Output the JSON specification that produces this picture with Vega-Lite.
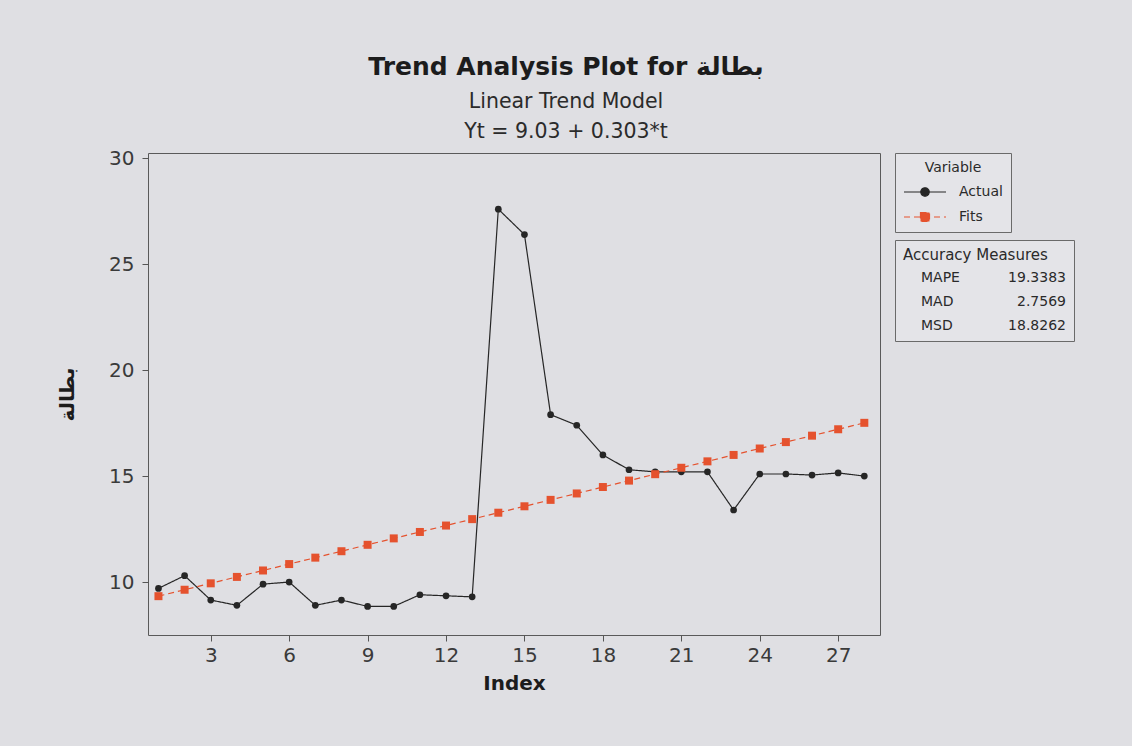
{
  "$schema": "https://vega.github.io/schema/vega-lite/v6.json",
  "width": 1132,
  "height": 746,
  "autosize": {"type": "fit", "contains": "padding"},
  "padding": {"left": 57, "top": 57, "right": 57, "bottom": 53},
  "background": "#dfdfe3",
  "title": {
    "text": "Trend Analysis Plot for بطالة",
    "subtitle": ["Linear Trend Model", "Yt = 9.03 + 0.303*t"],
    "anchor": "middle",
    "frame": "bounds",
    "font": "DejaVu Sans",
    "fontSize": 25,
    "fontWeight": "bold",
    "color": "#1c1c1c",
    "subtitleFont": "DejaVu Sans",
    "subtitleFontSize": 20.5,
    "subtitleColor": "#2b2b2b",
    "subtitleLineHeight": 30,
    "subtitlePadding": 12,
    "offset": 6
  },
  "datasets": {
    "trend": [
      {"index": 1, "series": "Actual", "value": 9.7},
      {"index": 2, "series": "Actual", "value": 10.3},
      {"index": 3, "series": "Actual", "value": 9.15},
      {"index": 4, "series": "Actual", "value": 8.9},
      {"index": 5, "series": "Actual", "value": 9.9},
      {"index": 6, "series": "Actual", "value": 10.0},
      {"index": 7, "series": "Actual", "value": 8.9},
      {"index": 8, "series": "Actual", "value": 9.15},
      {"index": 9, "series": "Actual", "value": 8.85},
      {"index": 10, "series": "Actual", "value": 8.85},
      {"index": 11, "series": "Actual", "value": 9.4},
      {"index": 12, "series": "Actual", "value": 9.35},
      {"index": 13, "series": "Actual", "value": 9.3},
      {"index": 14, "series": "Actual", "value": 27.6},
      {"index": 15, "series": "Actual", "value": 26.4},
      {"index": 16, "series": "Actual", "value": 17.9},
      {"index": 17, "series": "Actual", "value": 17.4},
      {"index": 18, "series": "Actual", "value": 16.0},
      {"index": 19, "series": "Actual", "value": 15.3},
      {"index": 20, "series": "Actual", "value": 15.2},
      {"index": 21, "series": "Actual", "value": 15.2},
      {"index": 22, "series": "Actual", "value": 15.2},
      {"index": 23, "series": "Actual", "value": 13.4},
      {"index": 24, "series": "Actual", "value": 15.1},
      {"index": 25, "series": "Actual", "value": 15.1},
      {"index": 26, "series": "Actual", "value": 15.05},
      {"index": 27, "series": "Actual", "value": 15.15},
      {"index": 28, "series": "Actual", "value": 15.0},
      {"index": 1, "series": "Fits", "value": 9.333},
      {"index": 2, "series": "Fits", "value": 9.636},
      {"index": 3, "series": "Fits", "value": 9.939},
      {"index": 4, "series": "Fits", "value": 10.242},
      {"index": 5, "series": "Fits", "value": 10.545},
      {"index": 6, "series": "Fits", "value": 10.848},
      {"index": 7, "series": "Fits", "value": 11.151},
      {"index": 8, "series": "Fits", "value": 11.454},
      {"index": 9, "series": "Fits", "value": 11.757},
      {"index": 10, "series": "Fits", "value": 12.06},
      {"index": 11, "series": "Fits", "value": 12.363},
      {"index": 12, "series": "Fits", "value": 12.666},
      {"index": 13, "series": "Fits", "value": 12.969},
      {"index": 14, "series": "Fits", "value": 13.272},
      {"index": 15, "series": "Fits", "value": 13.575},
      {"index": 16, "series": "Fits", "value": 13.878},
      {"index": 17, "series": "Fits", "value": 14.181},
      {"index": 18, "series": "Fits", "value": 14.484},
      {"index": 19, "series": "Fits", "value": 14.787},
      {"index": 20, "series": "Fits", "value": 15.09},
      {"index": 21, "series": "Fits", "value": 15.393},
      {"index": 22, "series": "Fits", "value": 15.696},
      {"index": 23, "series": "Fits", "value": 15.999},
      {"index": 24, "series": "Fits", "value": 16.302},
      {"index": 25, "series": "Fits", "value": 16.605},
      {"index": 26, "series": "Fits", "value": 16.908},
      {"index": 27, "series": "Fits", "value": 17.211},
      {"index": 28, "series": "Fits", "value": 17.514}
    ],
    "accuracy": [
      {"item": "MAPE"},
      {"item": "19.3383"},
      {"item": "MAD"},
      {"item": "2.7569"},
      {"item": "MSD"},
      {"item": "18.8262"}
    ]
  },
  "layer": [
    {
      "data": {"name": "trend"},
      "encoding": {
        "x": {
          "field": "index",
          "type": "quantitative",
          "scale": {"domain": [0.6, 28.6], "nice": false, "zero": false},
          "axis": {"values": [3, 6, 9, 12, 15, 18, 21, 24, 27], "title": "Index", "labelPadding": 4, "titlePadding": 8}
        },
        "y": {
          "field": "value",
          "type": "quantitative",
          "scale": {"domain": [7.5, 30.25], "nice": false, "zero": false},
          "axis": {"values": [10, 15, 20, 25, 30], "title": "بطالة", "labelPadding": 8, "titlePadding": 31}
        },
        "color": {
          "field": "series",
          "type": "nominal",
          "scale": {"domain": ["Actual", "Fits"], "range": ["#262626", "#e5522e"]},
          "legend": {
            "title": "Variable",
            "titleAnchor": "middle",
            "titlePadding": 6,
            "symbolSize": 400,
            "labelOffset": 34,
            "rowPadding": 7,
            "encoding": {
              "symbols": {
                "shape": {
                  "condition": {"test": "datum.value === 'Actual'", "value": "M-1,0H3.2M0.68,0A0.42,0.42 0 1,1 1.52,0A0.42,0.42 0 1,1 0.68,0Z"},
                  "value": "M-1,0H3.2M0.65,-0.45H1.55V0.45H0.65Z"
                },
                "stroke": {
                  "condition": {"test": "datum.value === 'Actual'", "value": "#3a3a3a"},
                  "value": "#e5522e"
                },
                "fill": {
                  "condition": {"test": "datum.value === 'Actual'", "value": "#1a1a1a"},
                  "value": "#e5522e"
                },
                "strokeDash": {
                  "condition": {"test": "datum.value === 'Actual'", "value": [1, 0]},
                  "value": [5, 3]
                },
                "strokeWidth": {"value": 1.2},
                "opacity": {"value": 1}
              }
            }
          }
        }
      },
      "layer": [
        {
          "mark": {"type": "line", "strokeWidth": 1.2},
          "encoding": {
            "strokeDash": {
              "field": "series",
              "type": "nominal",
              "scale": {"domain": ["Actual", "Fits"], "range": [[1, 0], [6, 4]]},
              "legend": null
            }
          }
        },
        {
          "transform": [{"filter": "datum.series === 'Actual'"}],
          "mark": {"type": "point", "shape": "circle", "filled": true, "size": 45, "opacity": 1}
        },
        {
          "transform": [{"filter": "datum.series === 'Fits'"}],
          "mark": {"type": "point", "shape": "square", "filled": true, "size": 64, "opacity": 1}
        }
      ]
    },
    {
      "data": {"name": "accuracy"},
      "mark": {"type": "point", "filled": true, "strokeWidth": 0},
      "encoding": {
        "fill": {
          "field": "item",
          "type": "nominal",
          "scale": {"domain": ["MAPE", "MAD", "MSD", "19.3383", "2.7569", "18.8262"], "range": ["transparent", "transparent", "transparent", "transparent", "transparent", "transparent"]},
          "legend": {
            "title": "Accuracy Measures",
            "titleFontSize": 15,
            "titlePadding": 8,
            "columns": 2,
            "columnPadding": 30,
            "symbolSize": 100,
            "symbolStrokeWidth": 0,
            "symbolFillColor": "transparent",
            "labelOffset": 4,
            "rowPadding": 10,
            "encoding": {
              "labels": {
                "align": {
                  "condition": {"test": "isValid(toNumber(datum.value))", "value": "right"},
                  "value": "left"
                },
                "dx": {
                  "condition": {"test": "isValid(toNumber(datum.value))", "value": 58},
                  "value": 0
                }
              }
            }
          }
        }
      }
    }
  ],
  "config": {
    "view": {"fill": "#f5f5f4", "stroke": "#5a5a5a", "strokeWidth": 1},
    "axis": {
      "labelFont": "DejaVu Sans",
      "labelFontSize": 20,
      "labelColor": "#3a3a3a",
      "tickColor": "#555555",
      "tickSize": 6,
      "domain": false,
      "grid": false,
      "titleFont": "DejaVu Sans",
      "titleFontSize": 20,
      "titleFontWeight": "bold",
      "titleColor": "#1c1c1c"
    },
    "legend": {
      "offset": 15,
      "strokeColor": "#6a6a6a",
      "fillColor": "#e4e4e8",
      "padding": 8,
      "titleFont": "DejaVu Sans",
      "titleFontSize": 14,
      "titleFontWeight": "normal",
      "titleColor": "#2a2a2a",
      "labelFont": "DejaVu Sans",
      "labelFontSize": 14,
      "labelColor": "#2a2a2a"
    }
  }
}
